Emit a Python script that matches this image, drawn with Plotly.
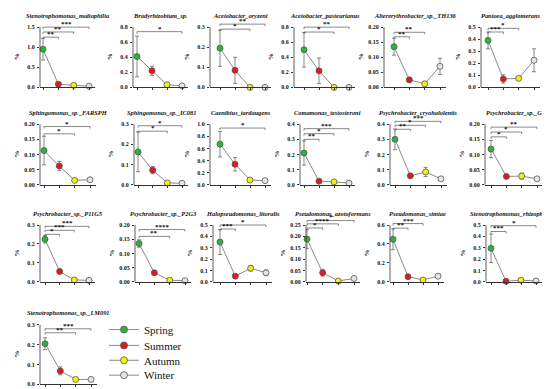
import plotly.graph_objects as go

W, H = 550, 389

# ---------------- data ----------------
taxa = ["Stenotrophomonas_maltophilia", "Bradyrhizobium_sp.", "Acetobacter_oryzeni",
        "Acetobacter_pasteurianus", "Altererythrobacter_sp._TH136", "Pantoea_agglomerans",
        "Sphingomonas_sp._FARSPH", "Sphingomonas_sp._IC081", "Caenibius_tardaugens",
        "Comamonas_testosteroni", "Psychrobacter_cryohalolentis", "Psychrobacter_sp._G",
        "Psychrobacter_sp._P11G5", "Psychrobacter_sp._P2G3", "Halopseudomonas_litoralis",
        "Pseudomonas_azotoformans", "Pseudomonas_simiae", "Stenotrophomonas_rhizophila",
        "Stenotrophomonas_sp._LM091"]
seasons = ["Spring", "Summer", "Autumn", "Winter"]

spring = [0.95, 0.41, 0.195, 0.50, 0.135, 0.39, 0.113, 0.163, 0.67, 0.21, 0.30, 0.118,
          0.225, 0.135, 0.35, 0.188, 0.45, 0.295, 0.205]
summer = [0.08, 0.22, 0.085, 0.22, 0.025, 0.07, 0.062, 0.073, 0.34, 0.025, 0.06, 0.028,
          0.055, 0.032, 0.05, 0.04, 0.055, 0.005, 0.068]
autumn = [0.05, 0.035, 0.0, 0.0, 0.012, 0.075, 0.015, 0.01, 0.08, 0.02, 0.085, 0.029,
          0.01, 0.006, 0.12, 0.004, 0.02, 0.015, 0.025]
winter = [0.03, 0.02, 0.0, 0.0, 0.07, 0.225, 0.017, 0.008, 0.07, 0.012, 0.04, 0.02,
          0.008, 0.004, 0.08, 0.015, 0.06, 0.008, 0.025]

spring_sd = [0.27, 0.27, 0.09, 0.23, 0.028, 0.07, 0.047, 0.098, 0.21, 0.08, 0.068, 0.028,
             0.02, 0.013, 0.11, 0.042, 0.11, 0.125, 0.03]
summer_sd = [0.02, 0.06, 0.065, 0.17, 0.008, 0.035, 0.015, 0.018, 0.11, 0.004, 0.01, 0.006,
             0.012, 0.008, 0.012, 0.015, 0.01, 0.003, 0.02]
autumn_sd = [0.01, 0.01, 0.0, 0.0, 0.003, 0.015, 0.003, 0.003, 0.01, 0.003, 0.03, 0.01,
             0.003, 0.002, 0.025, 0.002, 0.005, 0.003, 0.003]
winter_sd = [0.01, 0.005, 0.0, 0.0, 0.027, 0.095, 0.006, 0.003, 0.01, 0.005, 0.005, 0.006,
             0.002, 0.001, 0.025, 0.002, 0.005, 0.003, 0.01]

y_max = [1.5, 0.8, 0.3, 0.8, 0.20, 0.5, 0.20, 0.3, 1.0, 0.4, 0.4, 0.20,
         0.3, 0.20, 0.5, 0.25, 0.6, 0.5, 0.3]
y_dtick = [0.5, 0.2, 0.1, 0.2, 0.05, 0.1, 0.05, 0.1, 0.2, 0.1, 0.1, 0.05,
           0.1, 0.05, 0.1, 0.05, 0.2, 0.1, 0.1]

# significance comparisons: (from season index, to season index, height, label)
sig = [
    [(0, 1, 1.25, "**"), (0, 2, 1.38, "**"), (0, 3, 1.5, "***")],
    [(0, 3, 0.74, "*")],
    [(0, 2, 0.29, "*"), (0, 3, 0.315, "**")],
    [(0, 2, 0.735, "*"), (0, 3, 0.80, "**")],
    [(0, 1, 0.168, "**"), (0, 2, 0.183, "**")],
    [(0, 1, 0.46, "***"), (0, 2, 0.49, "*")],
    [(0, 2, 0.168, "*"), (0, 3, 0.192, "*")],
    [(0, 2, 0.265, "*"), (0, 3, 0.292, "*")],
    [(0, 3, 0.935, "*")],
    [(0, 1, 0.30, "**"), (0, 2, 0.337, "*"), (0, 3, 0.37, "***")],
    [(0, 1, 0.366, "**"), (0, 2, 0.392, "*"), (0, 3, 0.418, "***")],
    [(0, 1, 0.158, "*"), (0, 2, 0.174, "*"), (0, 3, 0.19, "**")],
    [(0, 1, 0.251, "*"), (0, 2, 0.272, "***"), (0, 3, 0.293, "***")],
    [(0, 2, 0.16, "**"), (0, 3, 0.184, "****")],
    [(0, 1, 0.465, "***"), (0, 3, 0.50, "*")],
    [(0, 1, 0.237, "*"), (0, 2, 0.255, "****"), (0, 3, 0.27, "*")],
    [(0, 1, 0.567, "**"), (0, 2, 0.615, "***")],
    [(0, 1, 0.443, "***"), (0, 3, 0.494, "*")],
    [(0, 2, 0.26, "**"), (0, 3, 0.28, "***")],
]

# ---------------- layout geometry (pixels) ----------------
axis_left = [32, 125, 202, 286, 376, 473, 32, 126, 202, 292, 382, 477, 32, 127, 205, 298, 382, 478, 32]
first_x = [35, 129, 212, 296, 386, 480, 36, 130, 212, 296, 387, 483, 37, 131, 212, 299, 385, 483, 37]
last_x = [81, 174, 257, 341, 432, 526, 82, 174, 257, 341, 433, 529, 81, 177, 258, 346, 430, 528, 83]
row_top = [19.3, 117, 218.7, 319.3]
row_bot = [80, 178.3, 276, 379.3]
EXT = 9
TITLE_MAX_CENTER = 502

colors = ["#27b53a", "#e8161b", "#f2f20c", "#e4e4e4"]
serif = "Liberation Serif, Times New Roman, serif"
axcol = "#333333"

fig = go.Figure()
shapes = []
annotations = []
layout_axes = {}

for i, name in enumerate(taxa):
    r = i // 6
    k = i + 1
    xs = "x" if k == 1 else f"x{k}"
    ys = "y" if k == 1 else f"y{k}"
    xname = "xaxis" if k == 1 else f"xaxis{k}"
    yname = "yaxis" if k == 1 else f"yaxis{k}"

    left = axis_left[i]
    right = last_x[i] + 6
    unit = (last_x[i] - first_x[i]) / 3.0
    xr = [-(first_x[i] - left) / unit, 3 + 6 / unit]
    top_px, bot_px = row_top[r], row_bot[r]
    scale = (bot_px - top_px) / y_max[i]
    yr = [0, y_max[i] + EXT / scale]

    vals = [spring[i], summer[i], autumn[i], winter[i]]
    sds = [spring_sd[i], summer_sd[i], autumn_sd[i], winter_sd[i]]

    fig.add_trace(go.Scatter(
        x=[0, 1, 2, 3], y=vals, mode="lines+markers",
        line=dict(color="#8a8a8a", width=1),
        marker=dict(size=6, color=colors, line=dict(color="#555555", width=0.8)),
        error_y=dict(type="data", array=sds, visible=True, color="#6a6a6a",
                     thickness=0.8, width=2),
        cliponaxis=False, showlegend=False, xaxis=xs, yaxis=ys, hoverinfo="skip"))

    layout_axes[xname] = dict(
        domain=[left / W, right / W], range=xr, anchor=ys,
        showgrid=False, zeroline=False, showline=True, linecolor=axcol, linewidth=0.8,
        tickmode="array", tickvals=[0, 1, 2, 3], ticktext=["", "", "", ""],
        ticks="outside", ticklen=2, tickwidth=0.6, tickcolor=axcol, fixedrange=True)
    layout_axes[yname] = dict(
        domain=[1 - bot_px / H, 1 - (top_px - EXT) / H], range=yr, anchor=xs,
        showgrid=False, zeroline=False, showline=False,
        tick0=0, dtick=y_dtick[i], ticks="outside", ticklen=2, tickwidth=0.6,
        tickcolor=axcol, tickformat=".2f" if y_dtick[i] < 0.1 else ".1f",
        tickfont=dict(family=serif, size=6, color="#111", weight="bold"),
        ticklabelstandoff=1, fixedrange=True)

    # y axis line from 0 to top tick
    shapes.append(dict(type="line", xref=f"{xs} domain", yref=ys, x0=0, x1=0,
                       y0=0, y1=y_max[i], line=dict(color=axcol, width=0.8)))

    # significance brackets
    tick_d = 2 / scale
    for (a, b, h, lab) in sig[i]:
        shapes.append(dict(type="path", xref=xs, yref=ys,
                           path=f"M{a},{h - tick_d} L{a},{h} L{b},{h} L{b},{h - tick_d}",
                           line=dict(color="#555555", width=0.7)))
        annotations.append(dict(x=(a + b) / 2, y=h, xref=xs, yref=ys, text=f"<b>{lab}</b>",
                                showarrow=False, yanchor="bottom", yshift=-3,
                                font=dict(family=serif, size=7, color="#111")))

    # title
    tcx = (left + right) / 2
    if len(name) > 22:
        tcx = min(tcx, TITLE_MAX_CENTER)
    annotations.append(dict(x=tcx / W, y=1 - (top_px - 12) / H,
                            xref="paper", yref="paper", text=f"<b><i>{name}</i></b>",
                            showarrow=False, xanchor="center", yanchor="middle",
                            font=dict(family=serif, size=6.4, color="#111")))
    # y label
    annotations.append(dict(x=(left - 23) / W, y=1 - (top_px + bot_px) / 2 / H,
                            xref="paper", yref="paper", text="<b>%</b>", textangle=-90,
                            showarrow=False, xanchor="center", yanchor="middle",
                            font=dict(family=serif, size=7, color="#111")))

# legend (one legend per season, stacked)
legend_y = [324, 340, 355, 370]
legends = {}
for s, season in enumerate(seasons):
    lname = "legend" if s == 0 else f"legend{s + 1}"
    fig.add_trace(go.Scatter(
        x=[None], y=[None], mode="lines+markers", name=season,
        line=dict(color="#8a8a8a", width=1),
        marker=dict(size=7, color=colors[s], line=dict(color="#555555", width=0.8)),
        showlegend=True, legend=lname, xaxis="x", yaxis="y"))
    legends[lname] = dict(x=96 / W, y=1 - legend_y[s] / H, xanchor="left", yanchor="middle",
                          bgcolor="rgba(0,0,0,0)", itemwidth=30,
                          font=dict(family=serif, size=11, color="#111"))

fig.update_layout(
    width=W, height=H, margin=dict(l=0, r=0, t=0, b=0),
    paper_bgcolor="white", plot_bgcolor="white",
    shapes=shapes, annotations=annotations, **layout_axes, **legends)

fig.write_html("out.html")
